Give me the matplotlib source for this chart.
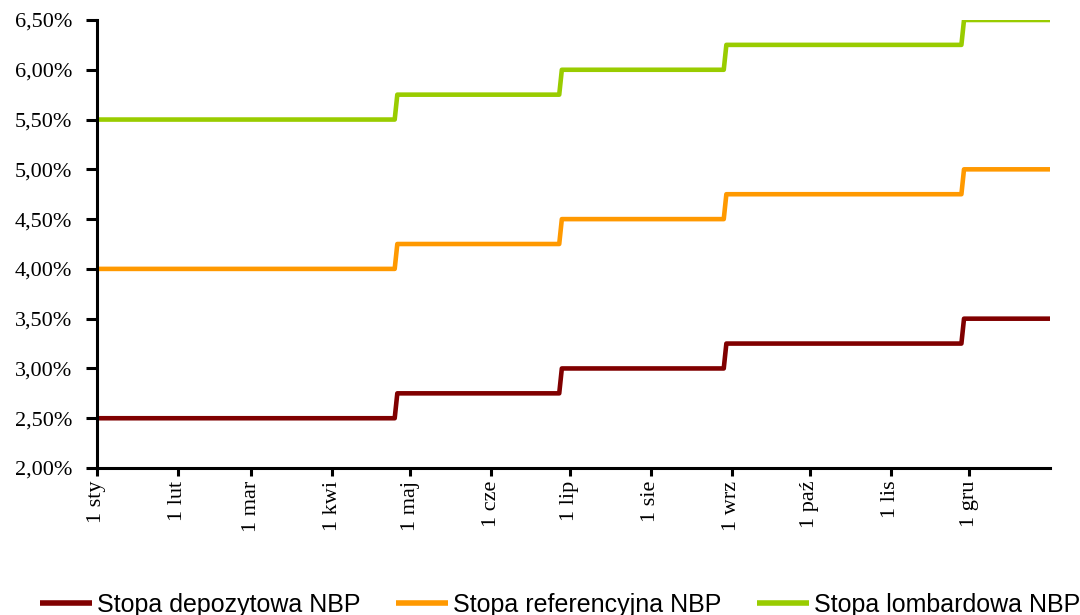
import pandas as pd
import matplotlib
matplotlib.use("Agg")
import matplotlib.pyplot as plt
from matplotlib.ticker import FuncFormatter, MultipleLocator

# ------------------------------
# Stopy procentowe NBP w 2007 r.
# ------------------------------
zmiany = ["2007-01-01", "2007-04-26", "2007-06-28", "2007-08-30", "2007-11-29"]
koniec = "2008-01-01"

depozytowa = [2.50, 2.75, 3.00, 3.25, 3.50]
referencyjna = [4.00, 4.25, 4.50, 4.75, 5.00]
lombardowa = [5.50, 5.75, 6.00, 6.25, 6.50]

miesiace = ["sty", "lut", "mar", "kwi", "maj", "cze",
            "lip", "sie", "wrz", "paź", "lis", "gru"]

serie = [
    ("Stopa depozytowa NBP", depozytowa, "#800000"),
    ("Stopa referencyjna NBP", referencyjna, "#FF9900"),
    ("Stopa lombardowa NBP", lombardowa, "#99CC00"),
]


def schodki(daty, wartosci, data_konca):
    # stopa obowiązuje do dnia przed zmianą, nowa od dnia zmiany
    d = pd.to_datetime(daty)
    xs, ys = [], []
    for i, (dt, v) in enumerate(zip(d, wartosci)):
        xs.append(dt)
        ys.append(v)
        nast = d[i + 1] - pd.Timedelta(days=1) if i + 1 < len(d) else pd.Timestamp(data_konca)
        xs.append(nast)
        ys.append(v)
    return xs, ys


fig = plt.figure(figsize=(10.8, 6.15), dpi=100)
ax = fig.add_axes([0.0898, 0.239, 0.8826, 0.7285])

for nazwa, wart, kolor in serie:
    x, y = schodki(zmiany, wart, koniec)
    ax.plot(x, y, color=kolor, lw=3.3, label=nazwa, solid_capstyle="butt")

ax.set_xlim(pd.Timestamp("2007-01-01"), pd.Timestamp(koniec))
ax.set_ylim(2.0, 6.5)

ax.yaxis.set_major_locator(MultipleLocator(0.5))
ax.yaxis.set_major_formatter(FuncFormatter(lambda v, p: f"{v:.2f}".replace(".", ",") + "%"))

ticks = pd.date_range("2007-01-01", periods=12, freq="MS")
ax.set_xticks(ticks)
ax.set_xticklabels([f"1 {m}" for m in miesiace], rotation=90, va="top", ha="center")

for s in ["top", "right"]:
    ax.spines[s].set_visible(False)
for s in ["left", "bottom"]:
    ax.spines[s].set_linewidth(2.2)
    ax.spines[s].set_color("black")

ax.tick_params(axis="both", direction="out", width=2.2, color="black")
ax.tick_params(axis="y", length=8, pad=10)
ax.tick_params(axis="x", length=6, pad=3)
for lab in ax.get_yticklabels() + ax.get_xticklabels():
    lab.set_family(["Liberation Serif", "DejaVu Serif"])
    lab.set_fontsize(16)

leg = fig.legend(loc="center", bbox_to_anchor=(560 / 1080, 1 - 605 / 615), ncol=3,
                 frameon=False, handlelength=2.1, handletextpad=0.2,
                 columnspacing=1.4,
                 prop={"family": ["Liberation Sans", "DejaVu Sans"], "size": 18})
for h in leg.get_lines():
    h.set_linewidth(4)

fig.savefig("out.png", dpi=100)
